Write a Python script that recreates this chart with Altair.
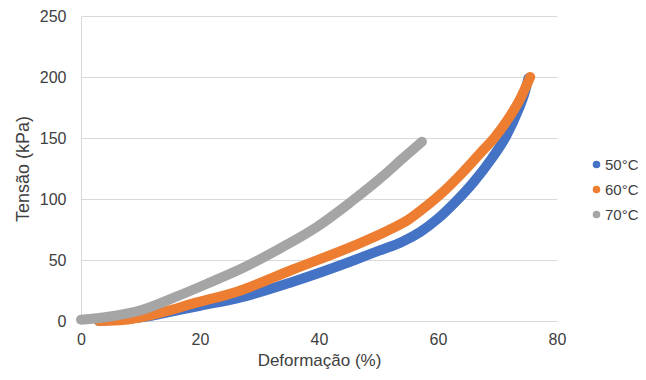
import altair as alt
import pandas as pd

# 50°C
x50 = [3, 8, 12, 15, 20, 26.2, 35.5, 46, 50, 54, 57, 60, 63, 66, 69, 71.5, 73.5, 74.5, 75.2]
y50 = [0, 2, 4.5, 7.5, 12.5, 18.5, 32, 50, 57.5, 65, 73, 84, 98, 114, 133, 152, 173, 186, 199]
# 60°C
x60 = [3, 7.4, 10, 15, 18.6, 26.2, 35.5, 46, 51.5, 55, 58, 61, 64, 67, 69.6, 71.5, 73.8, 75.5]
y60 = [0, 1, 3, 8.9, 14, 24, 42, 62, 74, 83, 94, 106.5, 121, 137, 151, 163.5, 182, 200]
# 70°C
x70 = [0, 4.6, 10.2, 15.8, 21.4, 27, 34, 39.6, 45.2, 50.8, 54, 57.3]
y70 = [1, 3.5, 9, 19.5, 31, 43, 61, 77, 97, 119, 133, 147]

series = ["50°C", "60°C", "70°C"]
colors = ["#4472C4", "#ED7D31", "#A5A5A5"]

rows = []
for name, xs, ys in zip(series, [x50, x60, x70], [y50, y60, y70]):
    for i, (a, b) in enumerate(zip(xs, ys)):
        rows.append({"serie": name, "x": a, "y": b, "i": i})
df = pd.DataFrame(rows)

FONT = "Liberation Sans"
TXT = "#404040"

chart = alt.Chart(df).mark_line(
    strokeWidth=10, strokeCap="round", strokeJoin="round", interpolate="monotone"
).encode(
    x=alt.X("x:Q", scale=alt.Scale(domain=[0, 80], nice=False),
            axis=alt.Axis(title="Deformação (%)", values=[0, 20, 40, 60, 80], grid=False,
                          ticks=False, tickSize=0, labelPadding=10, titlePadding=5,
                          titleFontSize=17, labelFlush=False, domainColor="#d9d9d9")),
    y=alt.Y("y:Q", scale=alt.Scale(domain=[0, 250], nice=False),
            axis=alt.Axis(title="Tensão (kPa)", values=[0, 50, 100, 150, 200, 250], grid=True,
                          gridColor="#d9d9d9", ticks=False, tickSize=0, labelPadding=15,
                          titlePadding=7, labelFlush=False, domainColor="#d9d9d9")),
    color=alt.Color("serie:N", scale=alt.Scale(domain=series, range=colors),
                    legend=alt.Legend(title=None, orient="none", legendX=508, legendY=141,
                                      symbolType="circle", symbolSize=13, symbolStrokeWidth=4,
                                      rowPadding=4, labelOffset=1)),
    order="i:Q",
).properties(
    width=476, height=305,
    autosize=alt.AutoSizeParams(type="none"),
    padding={"left": 73, "top": 8, "right": 81, "bottom": 51},
).configure_view(stroke=None).configure_axis(
    labelFont=FONT, titleFont=FONT, labelFontSize=16, titleFontSize=18,
    labelColor=TXT, titleColor=TXT, titleFontWeight="normal",
).configure_legend(
    labelFont=FONT, labelFontSize=15, labelColor=TXT,
)

chart.save("out.html", embed_options={"renderer": "svg", "actions": False})
